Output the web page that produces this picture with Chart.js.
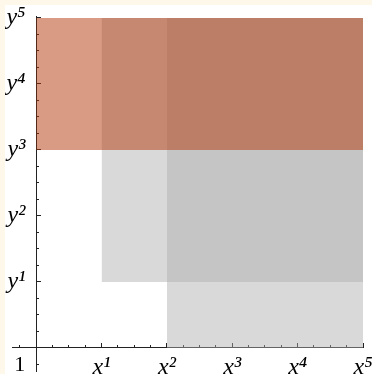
<!DOCTYPE html>
<html>
<head>
<meta charset="utf-8">
<script src="https://cdn.jsdelivr.net/npm/chart.js@4.4.1/dist/chart.umd.min.js"></script>
<style>
  html, body { margin: 0; padding: 0; background: #fdf8ea; }
  #holder { position: absolute; left: 5px; top: 5px; width: 367px; height: 369px; background: #fff; }
</style>
</head>
<body>
<div id="holder"><canvas id="myChart"></canvas></div>
<script>
// axis labels (exponents 0..5)
var xLabels = ['', 'x\u00b9', 'x\u00b2', 'x\u00b3', 'x\u2074', 'x\u2075'];
var yLabels = ['1', 'y\u00b9', 'y\u00b2', 'y\u00b3', 'y\u2074', 'y\u2075'];

// rectangles, in exponent units
var rectNames = ['band', 'grayA', 'grayB'];
var rectX0 = [0, 1, 2];
var rectX1 = [5, 5, 5];
var rectY0 = [3, 1, 0];
var rectY1 = [5, 5, 5];

var rectColors = ['rgba(180, 55, 10, 0.5)', 'rgba(174, 174, 174, 0.47)', 'rgba(174, 174, 174, 0.47)'];

var axisColor = '#222';
var labelFont = { family: "'Liberation Serif', serif", size: 24, style: 'italic', lineHeight: 1.2 };
var oneFont = { family: "'Liberation Serif', serif", size: 22, style: 'normal', lineHeight: 1.55 };

var XMIN = -0.37, XMAX = 5, YMIN = -0.35, YMAX = 5.03;

var datasets = rectNames.map(function (name, i) {
    return {
        label: name,
        data: [{ x: rectX0[i], y: rectY1[i] }, { x: rectX1[i], y: rectY1[i] }],
        fill: { value: rectY0[i] },
        backgroundColor: rectColors[i],
        borderWidth: 0,
        pointRadius: 0,
        xAxisID: 'x',
        yAxisID: 'y'
    };
});

function noPad(s) {
    s.paddingLeft = 0; s.paddingRight = 0; s.paddingTop = 0; s.paddingBottom = 0;
}

function gridOpts(len) {
    return { drawOnChartArea: false, drawTicks: true, tickLength: len, tickColor: axisColor, tickWidth: 1 };
}

var ctx = document.getElementById('myChart').getContext('2d');
new Chart(ctx, {
    type: 'line',
    data: { datasets: datasets },
    options: {
        responsive: true,
        maintainAspectRatio: false,
        animation: false,
        layout: { padding: { left: 7, right: 9, top: 11, bottom: 3 } },
        plugins: { legend: { display: false }, tooltip: { enabled: false } },
        scales: {
            x: {
                type: 'linear', axis: 'x', min: XMIN, max: XMAX,
                position: { y: 0 },
                border: { display: true, color: axisColor, width: 1 },
                grid: gridOpts(-5),
                afterFit: noPad,
                ticks: {
                    stepSize: 1, includeBounds: false, autoSkip: false, maxRotation: 0,
                    padding: 10, color: '#000', font: labelFont,
                    callback: function (v) { return xLabels[Math.round(v)]; }
                }
            },
            xm: {
                type: 'linear', axis: 'x', min: XMIN, max: XMAX,
                position: { y: 0 },
                border: { display: false },
                grid: gridOpts(-3),
                afterFit: noPad,
                ticks: { stepSize: 0.25, includeBounds: false, display: false }
            },
            y: {
                type: 'linear', axis: 'y', min: YMIN, max: YMAX,
                position: { x: 0 },
                border: { display: true, color: axisColor, width: 1 },
                grid: gridOpts(-5),
                afterFit: noPad,
                ticks: {
                    stepSize: 1, includeBounds: false, autoSkip: false,
                    color: '#000',
                    font: function (c) { return c.index === 0 ? oneFont : labelFont; },
                    // labels sit right against the axis, so pad them with spaces
                    callback: function (v) {
                        var i = Math.round(v);
                        if (i === 0) return ['', yLabels[0] + '  '];
                        return yLabels[i] + ' \u2009';
                    }
                }
            },
            ym: {
                type: 'linear', axis: 'y', min: YMIN, max: YMAX,
                position: { x: 0 },
                border: { display: false },
                grid: gridOpts(-3),
                afterFit: noPad,
                ticks: { stepSize: 0.25, includeBounds: false, display: false }
            }
        }
    }
});
</script>
</body>
</html>
